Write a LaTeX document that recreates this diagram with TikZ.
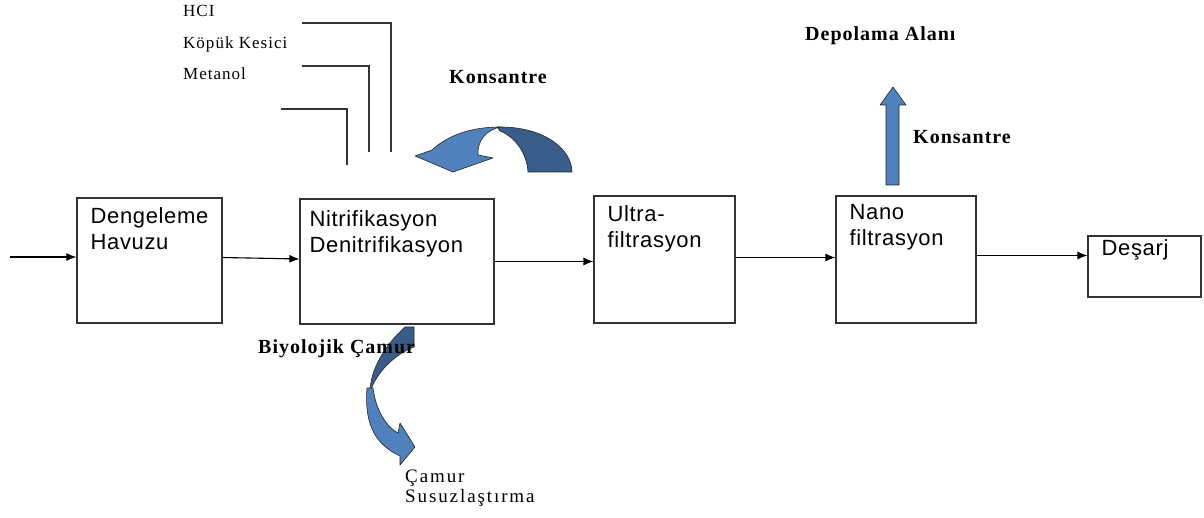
\documentclass[tikz,border=0pt]{standalone}
\usepackage{fontspec}
\setmainfont{Liberation Serif}
\newfontfamily\boxfont{Liberation Sans}[LetterSpace=3]
\newfontfamily\lblfont{Liberation Serif}[LetterSpace=6]
\newfontfamily\lblwfont{Liberation Serif}[LetterSpace=10]
\newfontfamily\lblbfont{Liberation Serif Bold}[LetterSpace=5]
\usepackage{tikz}
\usetikzlibrary{arrows.meta}
\definecolor{lightblue}{RGB}{79,129,189}
\definecolor{darkblue}{RGB}{56,93,138}
\tikzset{
  box/.style={draw=black!80, line width=1.2pt, rectangle, inner sep=0pt},
  boxtext/.style={anchor=base west, inner sep=0pt, align=left,
    font=\boxfont\fontsize{22}{25.5}\selectfont},
  lbl/.style={anchor=base west, inner sep=0pt, align=left,
    font=\lblfont\fontsize{17}{20}\selectfont},
  lblb/.style={anchor=base west, inner sep=0pt,
    font=\lblbfont\fontsize{20}{24}\selectfont},
  flow/.style={line width=1.1pt, -{Latex[length=10pt,width=8pt]}},
  feed/.style={draw=black!80, line width=1.4pt},
  blob/.style={draw=black!85, line width=0.6pt, line join=round}
}
\begin{document}
\begin{tikzpicture}[x=1pt, y=-1pt]
    \useasboundingbox (0,0) rectangle (1204,518);
    % process boxes
    \node[box, minimum width=145, minimum height=125] (deng) at (149.5,260.5) {};
    \node[box, minimum width=194, minimum height=125] (nitri) at (397,261.5) {};
    \node[box, minimum width=141, minimum height=127] (ultra) at (664.5,259.5) {};
    \node[box, minimum width=140, minimum height=127] (nano) at (906,259.5) {};
    \node[box, minimum width=113, minimum height=61] (desarj) at (1144.5,266.5) {};
    \node[boxtext] at ([shift={(14,52)}]deng.north west) {Dengeleme\\Havuzu};
    \node[boxtext] at ([shift={(10,54)}]nitri.north west) {Nitrifikasyon\\Denitrifikasyon};
    \node[boxtext] at ([shift={(14,52)}]ultra.north west) {Ultra-\\filtrasyon};
    \node[boxtext] at ([shift={(14,50)}]nano.north west) {Nano\\filtrasyon};
    \node[boxtext] at ([shift={(14,20)}]desarj.north west) {Deşarj};
    % main line
    \coordinate (in) at (10,257);
    \draw[flow] (in) -- (in -| deng.west);
    \draw[flow] ([yshift=3pt]deng.east) -- ([yshift=2.5pt]nitri.west);
    \draw[flow] (nitri.east) -- (nitri.east -| ultra.west);
    \draw[flow] ([yshift=2pt]ultra.east) -- ([yshift=2pt]ultra.east -| nano.west);
    \draw[flow] ([yshift=4pt]nano.east) -- ([yshift=4pt]nano.east -| desarj.west);
    % chemical dosing lines
    \draw[feed] (302,23) -| (391,152);
    \draw[feed] (302,66) -| (369,152);
    \draw[feed] (281,109) -| (347,165);
    \node[lbl] (hcl) at (183,17) {HCI};
    \node[lbl] (kopuk) at (183,49) {Köpük Kesici};
    \node[lbl] (metanol) at (183,80) {Metanol};
    % konsantre return
    \filldraw[blob, fill=darkblue] (497,127) .. controls (545,126) and (572,150) .. (572,172)
        -- (528,172) .. controls (527,155) and (517,138) .. (500,131) -- cycle;
    \filldraw[blob, fill=lightblue] (432,150) .. controls (448,135) and (472,127) .. (500,127)
        .. controls (487,130) and (477,140) .. (478,155) -- (493,158) -- (453,172)
        -- (415,156) -- cycle;
    \node[lblb] (kons1) at (449,84) {Konsantre};
    % konsantre to storage
    \filldraw[blob, fill=lightblue] (886,185) -- (886,105) -- (880,105) -- (893,87)
        -- (906,105) -- (899,105) -- (899,185) -- cycle;
    \node[lblb] (depo) at (805,41) {Depolama Alanı};
    \node[lblb] (kons2) at (913,144) {Konsantre};
    % sludge
    \filldraw[blob, fill=darkblue] (405,327) -- (414,327) -- (414,347)
        .. controls (400,352) and (378,368) .. (370,392)
        .. controls (370,370) and (385,345) .. (405,327) -- cycle;
    \filldraw[blob, fill=lightblue] (367,388) .. controls (364,425) and (376,445) .. (400,456)
        -- (400,465) -- (415,447) -- (400,423) -- (398,433)
        .. controls (388,428) and (376,412) .. (373,388) -- cycle;
    \node[lblb] (bio) at (258,353) {Biyolojik Çamur};
    \node[lbl, font=\lblwfont\fontsize{19}{20}\selectfont] (camur) at (405,502) {Çamur\\Susuzlaştırma};
\end{tikzpicture}
\end{document}
